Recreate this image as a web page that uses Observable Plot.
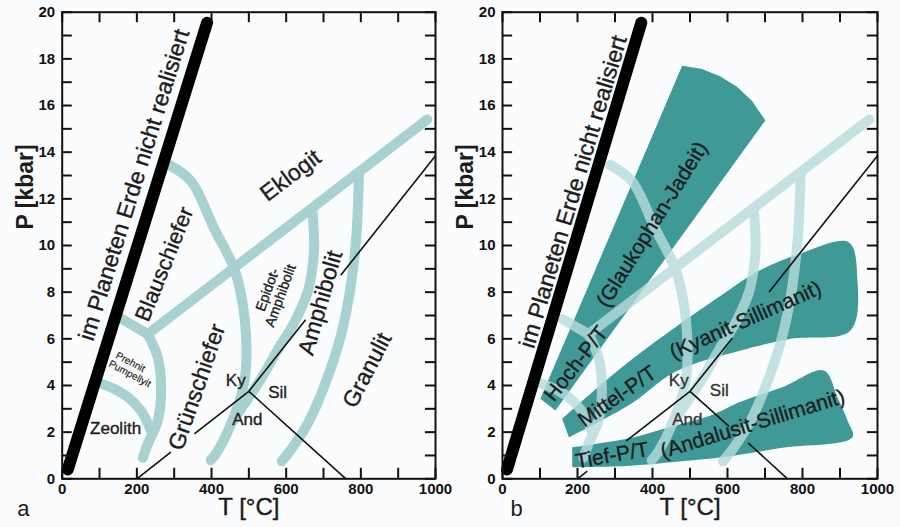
<!DOCTYPE html>
<html><head><meta charset="utf-8">
<script src="https://cdn.jsdelivr.net/npm/d3@7"></script>
<script src="https://cdn.jsdelivr.net/npm/@observablehq/plot@0.6"></script>
<style>
body{margin:0;background:#fff;}
#wrap{position:relative;width:900px;height:527px;overflow:hidden;background:#fbfcfd;}
#wrap svg{position:absolute;top:0;background:transparent;}
g[aria-description="bands-b"]{opacity:0.8;}
g[aria-label="x-axis tick label"] text, g[aria-label="y-axis tick label"] text{font-weight:bold;font-size:15px;}
</style></head><body><div id="wrap"></div>
<script>
// ---------- data ----------
const tTicks = d3.range(0, 1001, 100);
const tTickLabels = [0, 200, 400, 600, 800, 1000];
const pTicks = d3.range(0, 21, 1);
const pTickLabels = d3.range(0, 21, 2);

// "not realised on Earth" limit
const earthLimitA = [[15, 0.4], [388, 19.55]];
const earthLimitB = [[12, 0.4], [370, 19.55]];

// facies boundary bands [T, P]
const bandDiagonal = [[229, 6.2], [978, 15.4]];
const bandBlauTop = [[160, 6.85], [229, 6.2]];
const bandBlauGruen = [[287, 13.45], [345, 12.76], [407, 10.73], [461, 9.0], [483, 7.55], [492, 6.25], [492, 4.65], [483, 3.79], [452, 2.34], [416, 1.18], [398, 0.8]];
const bandEpidot = [[670, 11.6], [675, 10.0], [670, 9.0], [657, 7.98], [621, 6.68], [577, 5.52], [541, 4.51], [505, 3.6], [475, 2.9], [452, 2.34]];
const bandGranulit = [[795, 13.1], [788, 10.44], [773, 8.27], [746, 6.1], [701, 3.93], [657, 2.34], [615, 1.3], [588, 0.75]];
const bandPrehnit = [[229, 6.2], [256, 5.2], [265, 3.93], [256, 2.49], [229, 1.48], [216, 0.9]];
const bandZeolith = [[104, 4.08], [140, 3.85], [176, 3.5], [211, 2.92], [238, 2.05]];

// Al2SiO5 triple point lines (segments, gaps where text sits)
const kyAndA = [[[200, 0], [291, 1.14]], [[354, 1.93], [500, 3.75]]];
const kySilA = [[[500, 3.75], [652, 6.82]], [[746, 8.72], [1000, 13.85]]];
const silAndA = [[[500, 3.75], [760, 0]]];
const kyAndB = [[[200, 0], [226, 0.33]], [[330, 1.63], [500, 3.75]]];
const kySilB = [[[500, 3.75], [613, 6.03]], [[711, 8.01], [1000, 13.85]]];
const silAndB = [[[500, 3.75], [604, 2.25]], [[655, 1.54], [760, 0]]];

// metamorphic field gradients (panel b)
const hochPT = [[141, 2.93], [101, 3.43], [479, 17.7], [530, 17.58], [580, 17.25], [625, 16.8], [665, 16.2], [701, 15.36]];
const mittelPT = [[159, 2.57], [341, 5.07], [608, 8.14], [688, 8.95], [786, 9.6], [923, 10.14], [946, 8.64], [928, 6.36], [768, 6.0], [635, 5.5], [462, 4.6], [341, 3.2], [177, 1.78]];
const tiefPT = [[186, 1.35], [341, 1.75], [430, 2.15], [560, 2.75], [635, 3.3], [750, 3.95], [857, 4.64], [893, 3.5], [920, 2.5], [933, 1.78], [747, 1.33], [620, 1.0], [479, 0.75], [330, 0.55], [186, 0.5]];

// labels
const labelTextA = ["im Planeten Erde nicht realisiert", "Eklogit", "Blauschiefer", "Grünschiefer", "Amphibolit", "Granulit", "Zeolith", "Ky", "Sil", "And", "Epidot-", "Amphibolit", "Prehnit", "Pumpellyit"];
const labelTA = [193, 612, 274, 361, 692, 817, 143, 465, 577, 496, 550, 585, 183, 181];
const labelPA = [12.6, 13.0, 9.2, 3.93, 7.54, 4.65, 2.14, 4.22, 3.71, 2.56, 8.1, 7.85, 5.0, 4.5];

const labelTextB = ["im Planeten Erde nicht realisiert", "Hoch-P/T", "(Glaukophan-Jadeit)", "Mittel-P/T", "(Kyanit-Sillimanit)", "Tief-P/T", "(Andalusit-Sillimanit)", "Ky", "Sil", "And"];
const labelTB = [189, 196, 399, 306, 648, 292, 667, 470, 578, 493];
const labelPB = [12.3, 4.93, 10.9, 3.53, 6.8, 1.0, 2.35, 4.22, 3.79, 2.56];

// ---------- styles ----------
const FONT = "'Liberation Sans', Arial, Helvetica, sans-serif";
const BAND = "#a8d1d1";
const TEAL = "#3f9997";
const INK = "#1c1c1c";
const styleA = [[-72.7, 23], [-37, 23], [-68, 22], [-71, 23], [-74, 23], [-63, 23], [0, 17], [0, 17], [0, 17], [0, 17], [-70, 14], [-70, 14], [28, 10], [28, 10]];
const styleB = [[-73.3, 23], [-52, 21], [-58, 21], [-35, 21], [-24, 21], [-10, 21], [-17, 21], [0, 17], [0, 17], [0, 17]];

const pts = arr => arr.map(([T, P]) => ({T, P}));
const bandData = [bandDiagonal, bandBlauTop, bandBlauGruen, bandEpidot, bandGranulit, bandPrehnit, bandZeolith]
  .flatMap((b, i) => b.map(([T, P]) => ({T, P, id: i})));

function segMarks(segs) {
  return segs.map(s => Plot.line(pts(s), {x: "T", y: "P", stroke: "#111", strokeWidth: 1.6, strokeLinecap: "butt"}));
}
function labelMarks(texts, Ts, Ps, styles, color) {
  return texts.map((t, i) => {
    const small = (t === "Ky" || t === "Sil" || t === "And");
    return Plot.text([{T: Ts[i], P: Ps[i], t}], {
      x: "T", y: "P", text: "t", rotate: styles[i][0], fontSize: styles[i][1],
      fill: small ? color : INK, stroke: small ? color : INK, strokeWidth: styles[i][1] > 12 ? 0.35 : 0.15,
      fontFamily: FONT
    });
  });
}
function frameMarks() {
  return [
    Plot.frame({stroke: "#111", strokeWidth: 2}),
    Plot.ruleY(pTicks, {x1: 0, x2: 27, strokeWidth: 2, stroke: "#111"}),
    Plot.ruleY(pTicks, {x1: 973, x2: 1000, strokeWidth: 2, stroke: "#111"}),
    Plot.ruleX(tTicks, {y1: 0, y2: 0.45, strokeWidth: 2, stroke: "#111"}),
    Plot.ruleX(tTicks, {y1: 19.55, y2: 20, strokeWidth: 2, stroke: "#111"}),
    Plot.axisX(tTickLabels, {tickSize: 0, tickPadding: 5, tickFormat: d3.format("d"), fontSize: 15, fontWeight: "bold", label: null, fontFamily: FONT}),
    Plot.axisY(pTickLabels, {tickSize: 0, tickPadding: 7, tickFormat: d3.format("d"), fontSize: 15, fontWeight: "bold", label: null, fontFamily: FONT}),
    Plot.text(["P [kbar]"], {frameAnchor: "left", dx: -37, dy: -16, rotate: -90, fontSize: 23, fontWeight: "bold", fontFamily: FONT, fill: INK}),
    Plot.text(["T [°C]"], {frameAnchor: "bottom", dy: 36, fontSize: 24, fontFamily: FONT, fill: INK, stroke: INK, strokeWidth: 0.4})
  ];
}
const common = {
  height: 527, marginTop: 11.7, marginBottom: 48.7,
  x: {domain: [0, 1000], axis: null},
  y: {domain: [0, 20], axis: null},
  style: {background: "transparent", fontFamily: FONT, color: "#111", overflow: "visible"}
};

const plotA = Plot.plot({
  ...common, width: 450, marginLeft: 61.7, marginRight: 15,
  marks: [
    Plot.line(bandData, {x: "T", y: "P", z: "id", curve: "catmull-rom", stroke: BAND, strokeWidth: 10, strokeLinecap: "round", strokeLinejoin: "round"}),
    ...segMarks(kyAndA), ...segMarks(kySilA), ...segMarks(silAndA),
    Plot.line(pts(earthLimitA), {x: "T", y: "P", stroke: "#000", strokeWidth: 12, strokeLinecap: "round"}),
    ...frameMarks(),
    ...labelMarks(labelTextA, labelTA, labelPA, styleA, "#222"),
    Plot.text(["a"], {frameAnchor: "bottom-left", dx: -45, dy: 37, fontSize: 22, fontFamily: FONT, fill: INK})
  ]
});

const plotB = Plot.plot({
  ...common, width: 452, marginLeft: 62, marginRight: 15,
  marks: [
    Plot.line(pts(hochPT), {x: "T", y: "P", fill: TEAL, stroke: "none"}),
    Plot.line(pts(mittelPT), {x: "T", y: "P", curve: "catmull-rom", fill: TEAL, stroke: "none"}),
    Plot.line(pts(tiefPT), {x: "T", y: "P", curve: "catmull-rom", fill: TEAL, stroke: "none"}),
    Plot.line(bandData, {x: "T", y: "P", z: "id", curve: "catmull-rom", stroke: "#b8dcdc", strokeWidth: 10, strokeLinecap: "round", strokeLinejoin: "round", ariaDescription: "bands-b"}),
    ...segMarks(kyAndB), ...segMarks(kySilB), ...segMarks(silAndB),
    Plot.line(pts(earthLimitB), {x: "T", y: "P", stroke: "#000", strokeWidth: 12, strokeLinecap: "round"}),
    ...frameMarks(),
    ...labelMarks(labelTextB, labelTB, labelPB, styleB, "#333"),
    Plot.text(["b"], {frameAnchor: "bottom-left", dx: 8, dy: 37, fontSize: 22, fontFamily: FONT, fill: INK})
  ]
});

const wrap = document.getElementById("wrap");
plotA.style.left = "0px";
plotB.style.left = "440px";
wrap.appendChild(plotA);
wrap.appendChild(plotB);
</script></body></html>
